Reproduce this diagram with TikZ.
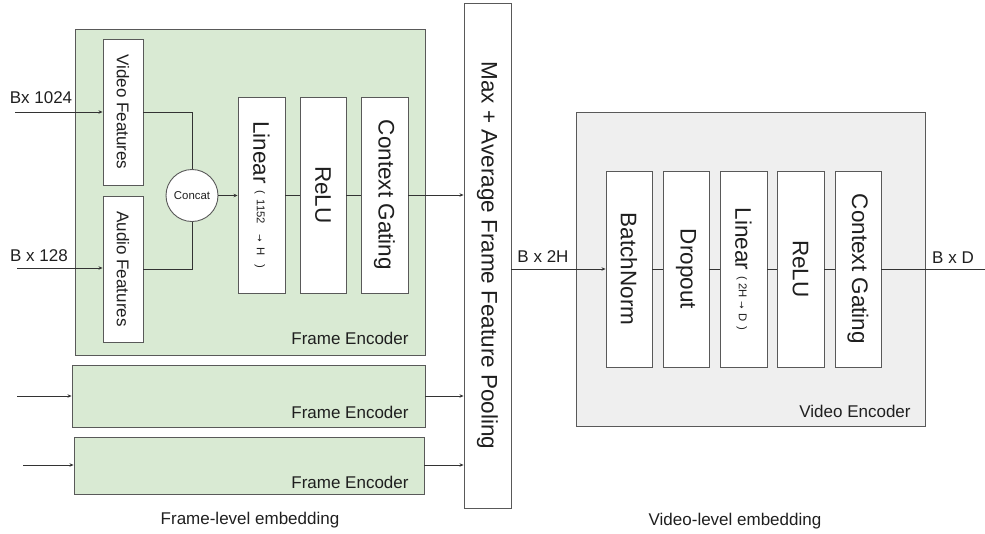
\documentclass[tikz,border=0pt]{standalone}
\usepackage{fontspec}
\setmainfont{Liberation Sans}
\newfontfamily\arrowfont{DejaVu Sans}
\usetikzlibrary{arrows.meta,calc}
\definecolor{fegreen}{HTML}{D9EAD3}
\definecolor{vegray}{HTML}{EFEFEF}
\definecolor{edge}{HTML}{595959}
\definecolor{wire}{HTML}{333333}
\definecolor{ink}{HTML}{1F1F1F}
\newcommand{\smallpart}[1]{\raisebox{3.5pt}{\fontsize{11.3}{13}\selectfont #1}}
\newcommand{\sarrow}{{\arrowfont\fontsize{9}{10}\selectfont →}}
\tikzset{
  encbox/.style={draw=edge, line width=0.9pt, fill=fegreen, inner sep=0pt},
  vencbox/.style={draw=edge, line width=0.9pt, fill=vegray, inner sep=0pt},
  layerbox/.style={draw=edge, line width=0.9pt, fill=white, inner sep=0pt, text=ink},
  bigtxt/.style={font=\fontsize{22.5}{26}\selectfont},
  midtxt/.style={font=\fontsize{17}{20}\selectfont},
  lbl/.style={text=ink, inner sep=0pt, font=\fontsize{17}{20}\selectfont},
  wireline/.style={draw=wire, line width=0.8pt},
  arr/.style={wireline, -{Stealth[length=4pt,width=3.5pt]}}
}
\begin{document}
\begin{tikzpicture}[x=1pt,y=-1pt]
\useasboundingbox (0,0) rectangle (985,533);

% Frame encoder 1 (large)
\node[encbox, minimum width=350, minimum height=326] (fe1) at (250,192) {};
\node[layerbox, minimum width=40, minimum height=146, midtxt] (vf) at (123,112) {\rotatebox{-90}{Video Features}};
\node[layerbox, minimum width=40, minimum height=146, midtxt] (af) at (123,269) {\rotatebox{-90}{Audio Features}};
\node[draw=edge, line width=0.9pt, fill=white, circle, minimum size=52, inner sep=0pt, text=ink, font=\fontsize{11.4}{13}\selectfont] (cc) at (192,195.5) {Concat};
\node[layerbox, minimum width=47, minimum height=196, bigtxt] (lin1) at (261.5,195) {\rotatebox{-90}{Linear\hspace{6pt}\smallpart{(\hspace{6pt}1152\hspace{10pt}\sarrow\hspace{6pt}H\hspace{9pt})}}};
\node[layerbox, minimum width=46, minimum height=196, bigtxt] (relu1) at (323,195) {\rotatebox{-90}{ReLU}};
\node[layerbox, minimum width=47, minimum height=196, bigtxt] (cg1) at (384.5,195) {\rotatebox{-90}{Context Gating}};
\node[lbl] (fe1l) at (350,338) {Frame Encoder};

% Frame encoders 2 and 3
\node[encbox, minimum width=353, minimum height=62] (fe2) at (248.5,396) {};
\node[lbl] (fe2l) at (350,412) {Frame Encoder};
\node[encbox, minimum width=350, minimum height=57] (fe3) at (249,465.5) {};
\node[lbl] (fe3l) at (350,482) {Frame Encoder};

% Pooling
\node[layerbox, minimum width=47, minimum height=505, bigtxt] (pool) at (487.5,255.5) {\rotatebox{-90}{Max + Average Frame Feature Pooling}};

% Video encoder
\node[vencbox, minimum width=349, minimum height=314] (ve) at (750.5,269) {};
\node[layerbox, minimum width=46, minimum height=196, bigtxt] (bn) at (629,269) {\rotatebox{-90}{BatchNorm}};
\node[layerbox, minimum width=46, minimum height=196, bigtxt] (dp) at (686,269) {\rotatebox{-90}{Dropout}};
\node[layerbox, minimum width=47, minimum height=196, bigtxt] (lin2) at (743.5,269) {\rotatebox{-90}{Linear\hspace{6pt}\smallpart{(\hspace{3pt}2H\hspace{4pt}\sarrow\hspace{4pt}D\hspace{5pt})}}};
\node[layerbox, minimum width=47, minimum height=196, bigtxt] (relu2) at (800.5,269) {\rotatebox{-90}{ReLU}};
\node[layerbox, minimum width=46, minimum height=196, bigtxt] (cg2) at (858,269) {\rotatebox{-90}{Context Gating}};
\node[lbl] (vel) at (855,411) {Video Encoder};

% Input coordinates
\coordinate (in1) at (15,112);
\coordinate (in2) at (17,268);
\coordinate (in3) at (17,396);
\coordinate (in4) at (23,465);
\coordinate (out) at (985,269);

% Labels
\node[lbl] (l1024) at (41,98) {Bx 1024};
\node[lbl] (l128) at (39,256) {B x 128};
\node[lbl] (l2h) at (543,257) {B x 2H};
\node[lbl] (lbd) at (953,258) {B x D};
\node[lbl] (fle) at (250,520) {Frame-level embedding};
\node[lbl] (vle) at (735,521) {Video-level embedding};

% Connectors
\draw[arr] (in1) -- (vf.west |- in1);
\draw[arr] (in2) -- (af.west |- in2);
\draw[wireline] (vf.east) -| (cc.north);
\draw[wireline] (af.east) -| (cc.south);
\draw[arr] (cc.east) -- (lin1.west |- cc.east);
\draw[wireline] (lin1.east) -- (relu1.west);
\draw[wireline] (relu1.east) -- (cg1.west);
\draw[arr] (cg1.east) -- (pool.west |- cg1.east);
\draw[arr] (in3) -- (fe2.west |- in3);
\draw[arr] (fe2.east |- in3) -- (pool.west |- in3);
\draw[arr] (in4) -- (fe3.west |- in4);
\draw[arr] (fe3.east |- in4) -- (pool.west |- in4);
\draw[arr] (pool.east |- bn.west) -- (bn.west);
\draw[wireline] (bn.east) -- (dp.west);
\draw[wireline] (dp.east) -- (lin2.west);
\draw[wireline] (lin2.east) -- (relu2.west);
\draw[wireline] (relu2.east) -- (cg2.west);
\draw[wireline] (cg2.east) -- (out);
\end{tikzpicture}
\end{document}
